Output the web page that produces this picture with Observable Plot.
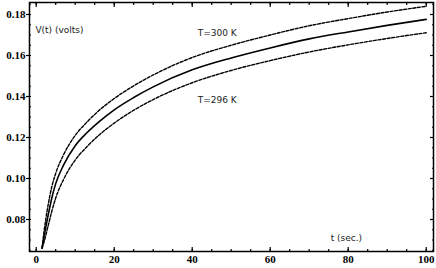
<!DOCTYPE html>
<html><head><meta charset="utf-8">
<script src="https://cdn.jsdelivr.net/npm/d3@7"></script>
<script src="https://cdn.jsdelivr.net/npm/@observablehq/plot@0.6"></script>
<style>
html,body{margin:0;padding:0;background:#fff;}
</style>
</head><body>
<div id="chart"></div>
<script>
const times   = [1.5, 2, 3, 4, 5, 7, 10, 13, 16, 20, 25, 30, 40, 50, 60, 70, 80, 90, 100];
const vMid    = [0.066, 0.0715, 0.0815, 0.0905, 0.0975, 0.1065, 0.116, 0.1223, 0.1275, 0.1335, 0.1395, 0.1447, 0.153, 0.1588, 0.1637, 0.1681, 0.1715, 0.1747, 0.1776];
const vT300   = [0.066, 0.074, 0.0865, 0.096, 0.1025, 0.1115, 0.121, 0.1275, 0.133, 0.139, 0.1452, 0.1505, 0.159, 0.165, 0.17, 0.1745, 0.178, 0.1812, 0.184];
const vT296   = [0.066, 0.069, 0.0765, 0.084, 0.0905, 0.0995, 0.109, 0.1155, 0.121, 0.127, 0.1333, 0.1385, 0.1467, 0.1527, 0.1575, 0.1617, 0.1652, 0.1683, 0.1711];
const xTicks  = [0, 20, 40, 60, 80, 100];
const yTicks  = [0.08, 0.10, 0.12, 0.14, 0.16, 0.18];
const labels  = ["V(t) (volts)", "T=300 K", "T=296 K", "t (sec.)"];
const labelX  = [-0.2, 41.4, 41.4, 75.5];
const labelY  = [0.1722, 0.1707, 0.138, 0.0709];

const mk = v => times.map((t, i) => ({t, v: v[i]}));
const mid = mk(vMid), hi = mk(vT300), lo = mk(vT296);
const ann = labels.map((s, i) => ({s, x: labelX[i], y: labelY[i]}));

const tickFont = {fontFamily: "Liberation Serif", fontWeight: "bold", fontSize: 11};
const dash = {stroke: "#000", strokeWidth: 1.4, strokeDasharray: "3,1.6", curve: "monotone-x"};
const chart = Plot.plot({
  width: 436, height: 268,
  marginLeft: 29, marginRight: 3, marginTop: 2, marginBottom: 17,
  style: {background: "#fff", color: "#000"},
  x: {domain: [-1.72, 101.87]},
  y: {domain: [0.06439, 0.18585]},
  marks: [
    Plot.line(hi, {x: "t", y: "v", ...dash}),
    Plot.line(mid, {x: "t", y: "v", stroke: "#000", strokeWidth: 1.6, curve: "monotone-x"}),
    Plot.line(lo, {x: "t", y: "v", ...dash}),
    Plot.frame({stroke: "#000", strokeWidth: 1.5}),
    Plot.axisX({anchor: "bottom", ticks: d3.range(0, 101, 5), tickSize: -2, text: null, strokeWidth: 1.2}),
    Plot.axisX({anchor: "bottom", ticks: xTicks, tickSize: -4, text: null, strokeWidth: 1.2}),
    Plot.axisX({anchor: "bottom", ticks: xTicks, tickSize: 0, tickPadding: 4, label: null, tickFormat: d3.format("d"), ...tickFont}),
    Plot.axisX({anchor: "top", ticks: d3.range(0, 101, 5), tickSize: -2, text: null, label: null, strokeWidth: 1.2}),
    Plot.axisX({anchor: "top", ticks: xTicks, tickSize: -4, text: null, label: null, strokeWidth: 1.2}),
    Plot.axisY({anchor: "left", ticks: yTicks, tickSize: 3, tickPadding: 1, label: null, tickFormat: d3.format(".2f"), strokeWidth: 1.2, ...tickFont}),
    Plot.axisY({anchor: "left", ticks: d3.range(0.065, 0.186, 0.005), tickSize: -2, text: null, label: null, strokeWidth: 1.2}),
    Plot.axisY({anchor: "right", ticks: d3.range(0.065, 0.186, 0.005), tickSize: -2, text: null, label: null, strokeWidth: 1.2}),
    Plot.axisY({anchor: "right", ticks: yTicks, tickSize: -4, text: null, label: null, strokeWidth: 1.2}),
    Plot.text(ann, {x: "x", y: "y", text: "s", textAnchor: "start", fontFamily: "DejaVu Sans", fontSize: 9, fill: "#222"})
  ]
});
document.getElementById("chart").appendChild(chart);
</script>
</body></html>
